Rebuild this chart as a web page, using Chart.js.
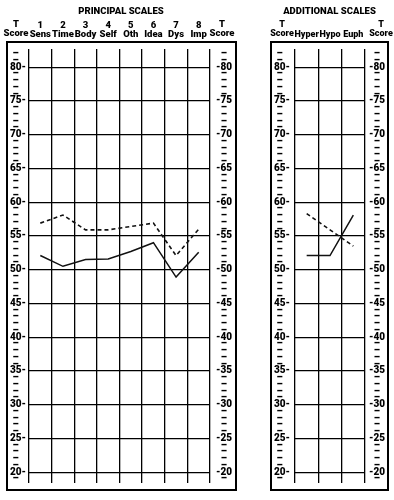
<!DOCTYPE html>
<html>
<head>
<meta charset="utf-8">
<script src="https://cdn.jsdelivr.net/npm/chart.js@4"></script>
<style>
  html, body { margin: 0; padding: 0; background: #fff; }
  #wrap { position: relative; width: 394px; height: 500px; }
  .panel { position: absolute; top: 0; height: 500px; }
  #principal { left: 0; width: 240px; }
  #additional { left: 240px; width: 154px; }
</style>
</head>
<body>
<div id="wrap">
  <div class="panel" id="principal"><canvas id="principalChart"></canvas></div>
  <div class="panel" id="additional"><canvas id="additionalChart"></canvas></div>
</div>
<script>
// --- data ---
const principalNumbers = ['1', '2', '3', '4', '5', '6', '7', '8'];
const principalLabels = ['Sens', 'Time', 'Body', 'Self', 'Oth', 'Idea', 'Dys', 'Imp'];
const principalSolid = [52.1, 50.5, 51.5, 51.6, 52.7, 54.0, 48.9, 52.6];
const principalDashed = [56.9, 58.1, 55.9, 55.9, 56.4, 56.9, 52.1, 56.0];

const additionalLabels = ['Hyper', 'Hypo', 'Euph'];
const additionalSolid = [52.1, 52.1, 58.1];
const additionalDashed = [58.3, 55.9, 53.5];

const yMin = 18.4, yMax = 82.7;

const FONT = 'Roboto, "Liberation Sans", sans-serif';
const WEIGHT = 900;

// box round each panel + the "T Score" heads over the axes
const framePlugin = {
  id: 'frame',
  afterDraw(chart, args, opts) {
    const ctx = chart.ctx;
    ctx.save();
    ctx.strokeStyle = '#000';
    ctx.lineWidth = 2;
    ctx.strokeRect(opts.left, opts.top, opts.right - opts.left, opts.bottom - opts.top);
    ctx.fillStyle = '#000';
    ctx.font = WEIGHT + ' ' + opts.size + 'px ' + FONT;
    ctx.textAlign = 'center';
    ctx.textBaseline = 'middle';
    opts.heads.forEach(x => {
      ctx.fillText('T', x, 25);
      ctx.fillText('Score', x, 34);
    });
    ctx.restore();
  }
};

function makeChart(id, cfg) {
  const ctx = document.getElementById(id).getContext('2d');
  return new Chart(ctx, {
    type: 'line',
    data: {
      labels: cfg.labels,
      datasets: [{
        data: cfg.solid,
        borderColor: '#111',
        borderWidth: 1.5,
        pointRadius: 0,
        tension: 0,
        fill: false
      }, {
        data: cfg.dashed,
        borderColor: '#111',
        borderWidth: 1.6,
        borderDash: [4, 3],
        pointRadius: 0,
        tension: 0,
        fill: false
      }]
    },
    plugins: [framePlugin],
    options: {
      responsive: true,
      maintainAspectRatio: false,
      animation: false,
      layout: { padding: cfg.padding },
      plugins: {
        legend: { display: false },
        tooltip: { enabled: false },
        title: {
          display: true,
          text: cfg.title,
          color: '#000',
          padding: { top: 6, bottom: 0 },
          font: { family: FONT, weight: WEIGHT, size: 9.5, lineHeight: 1.26 }
        },
        frame: cfg.frame
      },
      scales: {
        x: {
          position: 'top',
          offset: true,
          grid: { offset: true, color: '#000', lineWidth: 1.3, drawTicks: false, tickLength: 0 },
          border: { display: false },
          ticks: {
            color: '#000',
            padding: 10,
            maxRotation: 0,
            autoSkip: false,
            font: { family: FONT, weight: WEIGHT, size: cfg.frame.size, lineHeight: 9 / cfg.frame.size },
            callback: (v, i) => cfg.numbers ? [cfg.numbers[i], cfg.labels[i]] : cfg.labels[i]
          },
          afterFit: s => { s.height = 31; }
        },
        y: {
          position: 'left',
          min: yMin,
          max: yMax,
          grid: {
            color: c => (c.tick && c.tick.value % 5 === 0) ? '#000' : 'rgba(0,0,0,0)',
            lineWidth: 1.3,
            drawTicks: false,
            tickLength: 0
          },
          border: { display: false },
          ticks: {
            stepSize: 1,
            includeBounds: false,
            autoSkip: false,
            crossAlign: 'far',
            padding: 0,
            color: '#000',
            font: { family: FONT, weight: WEIGHT, size: 10 },
            callback: v => v % 5 === 0 ? v + '-' : ' \u2013'
          },
          afterFit: s => { s.width = cfg.leftWidth; }
        },
        y2: {
          position: 'right',
          min: yMin,
          max: yMax,
          grid: { display: false, drawTicks: false, tickLength: 0 },
          border: { display: false },
          ticks: {
            stepSize: 1,
            includeBounds: false,
            autoSkip: false,
            crossAlign: 'far',
            padding: 0,
            color: '#000',
            font: { family: FONT, weight: WEIGHT, size: 10 },
            callback: v => v % 5 === 0 ? '-' + v : '\u2013  '
          },
          afterFit: s => { s.width = cfg.rightWidth; }
        }
      }
    }
  });
}

makeChart('principalChart', {
  labels: principalLabels,
  numbers: principalNumbers,
  solid: principalSolid,
  dashed: principalDashed,
  title: 'PRINCIPAL SCALES',
  padding: { left: 10, right: 8, top: 0, bottom: 17 },
  leftWidth: 19,
  rightWidth: 22,
  frame: { left: 7, right: 236, top: 42, bottom: 490, heads: [16, 222], size: 9.5 }
});

makeChart('additionalChart', {
  labels: additionalLabels,
  numbers: null,
  solid: additionalSolid,
  dashed: additionalDashed,
  title: 'ADDITIONAL SCALES',
  padding: { left: 34, right: 9, top: 0, bottom: 17 },
  leftWidth: 21,
  rightWidth: 20,
  frame: { left: 31, right: 148, top: 42, bottom: 490, heads: [42, 141], size: 9 }
});
</script>
</body>
</html>
